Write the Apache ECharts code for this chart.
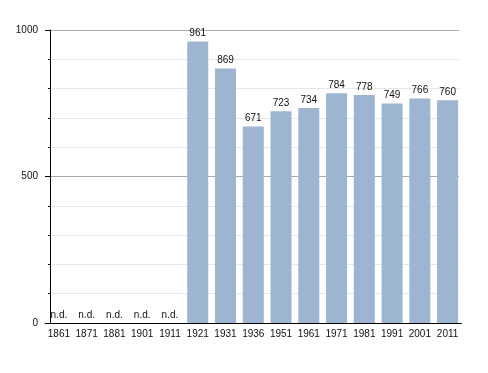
<!DOCTYPE html>
<html>
<head>
<meta charset="utf-8">
<script src="https://cdn.jsdelivr.net/npm/echarts@6/dist/echarts.min.js"></script>
<style>html,body{margin:0;padding:0;background:#fff}#c{width:488px;height:373px}</style>
</head>
<body>
<div id="c"></div>
<script>
var years = ['1861','1871','1881','1901','1911','1921','1931','1936','1951','1961','1971','1981','1991','2001','2011'];
var population = [null, null, null, null, null, 961, 869, 671, 723, 734, 784, 778, 749, 766, 760];
var yTicks = [0, 500, 1000];

var chart = echarts.init(document.getElementById('c'), null, {renderer: 'canvas'});
var font = 'Liberation Sans, Arial, sans-serif';
var seriesData = population.map(function (v) {
  if (v === null) {
    return {value: 0, label: {formatter: 'n.d.'}};
  }
  return {value: v};
});
var yMin = yTicks[0], yMax = yTicks[yTicks.length - 1];
chart.setOption({
  animation: false,
  grid: [
    {left: 50, right: 29, top: 30, bottom: 50},
    {left: 45, right: 26.5, top: 30, bottom: 50}
  ],
  xAxis: [
    {gridIndex: 0, type: 'value', min: 0, max: 1, show: false},
    {
      gridIndex: 1,
      type: 'category',
      data: years,
      axisLine: {lineStyle: {color: '#000', width: 1}},
      axisTick: {show: false},
      axisLabel: {color: '#111', fontSize: 10, fontFamily: font, margin: 6, interval: 0},
      splitLine: {show: false}
    }
  ],
  yAxis: [
    {
      gridIndex: 0,
      type: 'value',
      min: yMin,
      max: yMax,
      interval: 500,
      axisLine: {show: true, lineStyle: {color: '#000', width: 1}},
      axisTick: {show: true, length: 5, lineStyle: {color: '#000'}},
      minorTick: {show: true, splitNumber: 5, length: 2, lineStyle: {color: '#000'}},
      axisLabel: {color: '#111', fontSize: 10, fontFamily: font, margin: 12, formatter: function (v) { return String(v); }},
      splitLine: {show: true, lineStyle: {color: '#aaaaaa', width: 1}},
      minorSplitLine: {show: true, lineStyle: {color: '#e6e6e6', width: 1}}
    },
    {gridIndex: 1, type: 'value', min: yMin, max: yMax, show: false}
  ],
  series: [{
    type: 'bar',
    xAxisIndex: 1,
    yAxisIndex: 1,
    data: seriesData,
    barWidth: 21,
    itemStyle: {color: '#9db5d0'},
    label: {
      show: true,
      position: 'top',
      distance: 3,
      color: '#111',
      fontSize: 10,
      fontFamily: font
    }
  }]
});
</script>
</body>
</html>
